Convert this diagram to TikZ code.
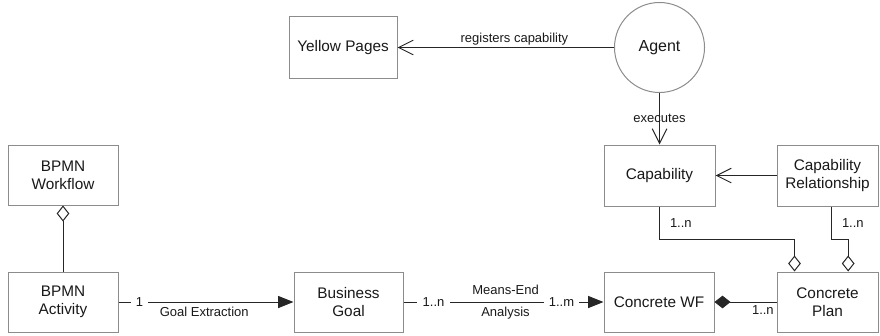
\documentclass[tikz,border=0pt]{standalone}
\usepackage{fontspec}
\setmainfont{Liberation Sans}
\usetikzlibrary{arrows.meta,positioning}

\begin{document}
\begin{tikzpicture}[x=0.75pt,y=-0.75pt,
    box/.style={draw=black!45,line width=0.75pt,fill=white,minimum width=82.5pt,minimum height=45pt,
      align=center,font=\fontsize{11.5}{13.5}\selectfont,text=black!90},
    lbl/.style={font=\fontsize{9.75}{12.75}\selectfont,text=black!90,inner sep=1.5pt,align=center},
    link/.style={draw=black!85,line width=0.75pt},
    assoc/.style={link,-{Straight Barb[length=11pt,width=11pt]}},
    nav/.style={link,-{Triangle[length=11.5pt,width=9pt]}},
    agg/.style={link,-{Diamond[open,length=12pt,width=9.5pt]}},
    comp/.style={link,-{Diamond[length=12pt,width=9.5pt]}}
  ]
  \useasboundingbox (0,0) rectangle (880,335);
  % top: agent and registry
  \node[box,minimum width=81pt,minimum height=45.75pt] (yp) at (343,47.5) {Yellow Pages};
  \node[draw=black!45,line width=0.75pt,circle,minimum size=67.5pt,
    font=\fontsize{12}{14}\selectfont,text=black!90] (agent) at (659.5,47.5) {Agent};
  % capabilities
  \node[box,minimum width=83.25pt,minimum height=45.75pt] (cap) at (659.5,175.5) {Capability};
  \node[box,minimum width=75.75pt,minimum height=45.75pt] (caprel) at (827.5,175.5) {Capability\\Relationship};
  % BPMN side
  \node[box] (bpmnwf) at (63,175) {BPMN\\Workflow};
  \node[box] (bpmnact) at (63,302) {BPMN\\Activity};
  % bottom row
  \node[box,minimum width=81.75pt] (goal) at (348.5,302) {Business\\Goal};
  \node[box] (cwf) at (659,302) {Concrete WF};
  \node[box,minimum width=75.75pt] (cplan) at (827.5,302) {Concrete\\Plan};

  % connectors
  \draw[assoc] (agent) -- (yp) node[lbl,pos=0.46,above] {registers capability};
  \draw[assoc] (agent) -- (cap) node[lbl,midway] {executes};
  \draw[assoc] (caprel) -- (cap);
  \draw[agg] (cap.south) -- ++(0,33) node[lbl,midway,right=6pt] {1..n}
    -| ([xshift=13.5pt]cplan.north west);
  \draw[agg] ([xshift=3pt]caprel.south) -- ++(0,33) node[lbl,midway,right=6pt] {1..n}
    -| ([xshift=15.5pt]cplan.north);
  \draw[comp] (cplan) -- (cwf) node[lbl,pos=0.22,below=1pt] {1..n};
  \draw[agg] (bpmnact) -- (bpmnwf);
  \draw[nav] (bpmnact) -- (goal)
    node[lbl,pos=0.12,fill=white,inner xsep=4pt] {1}
    node[lbl,pos=0.49,below=2pt] {Goal Extraction};
  \draw[nav] (goal) -- (cwf)
    node[lbl,pos=0.15,fill=white,inner xsep=4pt] {1..n}
    node[lbl,pos=0.51,font=\fontsize{9.75}{16.5}\selectfont] {Means-End\\Analysis}
    node[lbl,pos=0.79,fill=white,inner xsep=4pt] {1..m};
\end{tikzpicture}
\end{document}
